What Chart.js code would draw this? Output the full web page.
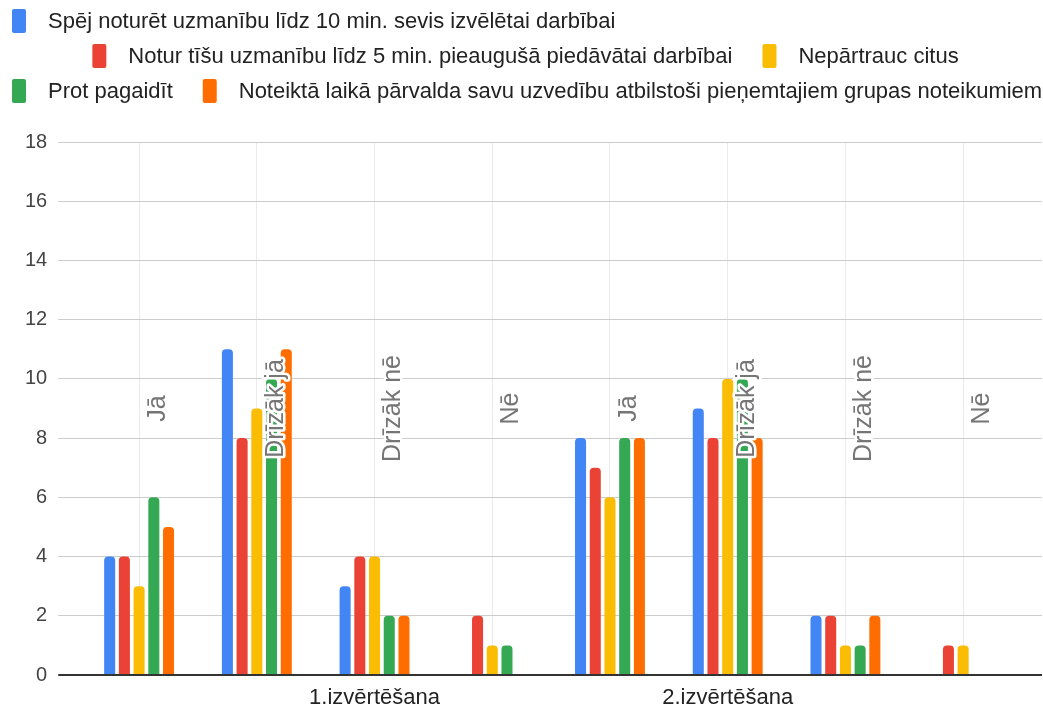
<!DOCTYPE html>
<html lang="lv">
<head>
  <meta charset="UTF-8" />
  <title>Uzmanība un uzvedība</title>
  <script src="https://cdn.jsdelivr.net/npm/chart.js"></script>
  <style>
    html, body { margin: 0; padding: 0; background: #fff; }
    #wrap { position: relative; width: 1043px; height: 711px; }
  </style>
</head>
<body>
  <div id="wrap"><canvas id="chartCanvas" width="1043" height="711"></canvas></div>

  <script>
    const categories = ["Jā", "Drīzāk jā", "Drīzāk nē", "Nē", "Jā", "Drīzāk jā", "Drīzāk nē", "Nē"];
    const groupTicks = ["", "", "1.izvērtēšana", "", "", "2.izvērtēšana", "", ""];
    const seriesNames = [
      "Spēj noturēt uzmanību līdz 10 min. sevis izvēlētai darbībai",
      "Notur tīšu uzmanību līdz 5 min. pieaugušā piedāvātai darbībai",
      "Nepārtrauc citus",
      "Prot pagaidīt",
      "Noteiktā laikā pārvalda savu uzvedību atbilstoši pieņemtajiem grupas noteikumiem"
    ];
    const spej = [4, 11, 3, 0, 8, 9, 2, 0];
    const notur = [4, 8, 4, 2, 7, 8, 2, 1];
    const neparTrauc = [3, 9, 4, 1, 6, 10, 1, 1];
    const protPagaidit = [6, 10, 2, 1, 8, 10, 1, 0];
    const noteikta = [5, 11, 2, 0, 8, 8, 2, 0];
    const colors = ["#4285F4", "#EA4335", "#FBBC04", "#34A853", "#FF6D01"];

    const FONT = '"Liberation Sans", Arial, sans-serif';

    const gridColor = ctx => (ctx.tick && ctx.tick.value === 0) ? "#333333" : "#cccccc";
    const gridWidth = ctx => (ctx.tick && ctx.tick.value === 0) ? 2 : 1;

    // legend in three rows like the original (middle row centred)
    const legendPlugin = {
      id: "rowLegend",
      afterDraw(chart) {
        const ctx = chart.ctx;
        const rows = [[0], [1, 2], [3, 4]];
        const rowY = [21, 56, 91];
        ctx.save();
        ctx.font = "22px " + FONT;
        ctx.textBaseline = "middle";
        rows.forEach((row, r) => {
          const widths = row.map(i => 36 + ctx.measureText(chart.data.datasets[i].label).width);
          const total = widths.reduce((a, b) => a + b, 0) + 30 * (row.length - 1);
          let x = r === 1 ? (chart.width - total) / 2 + 4 : 12;
          row.forEach((i, k) => {
            const ds = chart.data.datasets[i];
            ctx.fillStyle = ds.backgroundColor;
            ctx.beginPath();
            ctx.roundRect(x, rowY[r] - 12, 14, 24, 2);
            ctx.fill();
            ctx.fillStyle = "#222222";
            ctx.fillText(ds.label, x + 36, rowY[r] + 1);
            x += widths[k] + 30;
          });
        });
        ctx.restore();
      }
    };

    // category names written vertically inside the plot, group names under the axis
    const catLabelPlugin = {
      id: "catLabels",
      afterDatasetsDraw(chart) {
        const ctx = chart.ctx;
        const xs = chart.scales.x;
        const area = chart.chartArea;
        const yMid = (area.top + area.bottom) / 2;
        ctx.save();
        ctx.font = "25px " + FONT;
        ctx.textAlign = "center";
        ctx.textBaseline = "middle";
        categories.forEach((c, i) => {
          const x = xs.getPixelForValue(i) + 19;
          ctx.save();
          ctx.translate(x, yMid);
          ctx.rotate(-Math.PI / 2);
          ctx.lineWidth = 5;
          ctx.lineJoin = "round";
          ctx.strokeStyle = "#ffffff";
          ctx.strokeText(c, 0, 0);
          ctx.fillStyle = "#757575";
          ctx.fillText(c, 0, 0);
          ctx.restore();
        });
        ctx.font = "22px " + FONT;
        ctx.fillStyle = "#222222";
        groupTicks.forEach((g, i) => {
          if (g) ctx.fillText(g, xs.getPixelForValue(i), area.bottom + 23);
        });
        ctx.restore();
      }
    };

    const values = [spej, notur, neparTrauc, protPagaidit, noteikta];

    new Chart(document.getElementById("chartCanvas").getContext("2d"), {
      type: "bar",
      data: {
        labels: categories,
        datasets: seriesNames.map((name, i) => ({
          label: name,
          data: values[i],
          backgroundColor: colors[i],
          borderWidth: 0,
          borderRadius: 4,
          barPercentage: 0.75,
          categoryPercentage: 0.625
        }))
      },
      options: {
        responsive: false,
        animation: false,
        layout: { padding: { top: 142, left: 14, right: 1, bottom: 36 } },
        plugins: { legend: { display: false }, tooltip: { enabled: false } },
        scales: {
          x: {
            type: "category",
            grid: { offset: false, color: "#ebebeb", drawTicks: false },
            border: { display: false },
            ticks: { display: false }
          },
          y: {
            min: 0,
            max: 18,
            border: { display: false },
            grid: { color: gridColor, lineWidth: gridWidth, tickLength: 22 },
            ticks: { stepSize: 2, padding: 11, color: "#444444", font: { size: 20, family: FONT } }
          },
          y2: {
            position: "right",
            min: 0,
            max: 18,
            border: { display: false },
            grid: { color: gridColor, lineWidth: gridWidth, tickLength: 20, drawOnChartArea: false },
            ticks: { stepSize: 2, display: false }
          }
        }
      },
      plugins: [legendPlugin, catLabelPlugin]
    });
  </script>
</body>
</html>
